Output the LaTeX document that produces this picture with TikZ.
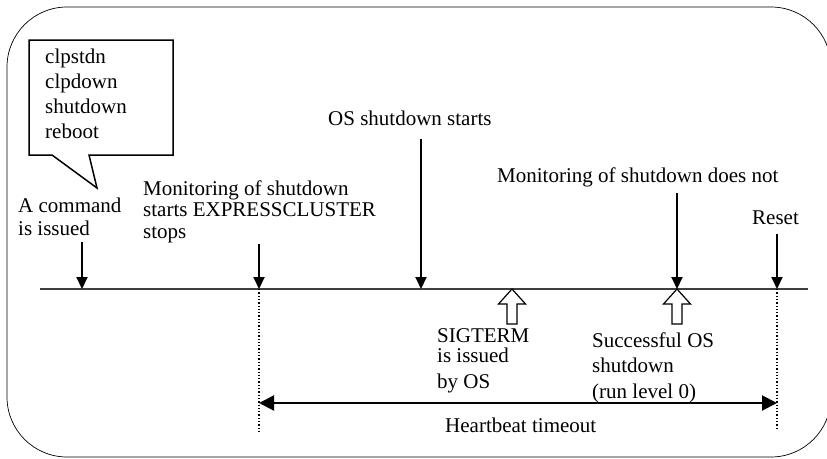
\documentclass[tikz,border=0pt]{standalone}
\usepackage{fontspec}
\setmainfont{Liberation Serif}
\usetikzlibrary{positioning,arrows.meta}

\begin{document}
\begin{tikzpicture}[x=1pt,y=-1pt,
  lbl/.style={anchor=base west,inner sep=0pt,align=left,font=\fontsize{21}{23}\selectfont},
  ev/.style={line width=2pt,-{Triangle[length=12pt,width=11pt]}},
  guide/.style={dotted,line width=1.3pt},
  hollow/.style={draw,fill=white,line width=1.2pt,line join=miter}]
  \useasboundingbox (0,0) rectangle (827,458);
  \clip (0,0) rectangle (827,458);
  % frame
  \draw[line width=0.7pt,rounded corners=60pt] (7,7) rectangle (831,457);
  % time line and its events
  \coordinate (start) at (40,289);
  \coordinate (stop) at (808,289);
  \draw[line width=1.6pt,black!75] (start) -- (stop);
  \coordinate (t1) at (82,289);
  \coordinate (t2) at (259,289);
  \coordinate (t3) at (421,289);
  \coordinate (t4) at (512,289);
  \coordinate (t5) at (677,289);
  \coordinate (t6) at (777,289);
  % callout with the commands
  \draw[line width=1.5pt,line join=miter] (29,40) -- (173,40) -- (173,155) -- (89,155)
    -- (97,188) -- (52,155) -- (29,155) -- cycle;
  \node[lbl,font=\fontsize{21}{25}\selectfont] (cmds) at (45,138)
    {clpstdn\\ clpdown\\ shutdown\\ reboot};
  % labels above the line (base = last line)
  \node[lbl] (issued) at (18,235) {A command\\ is issued};
  \node[lbl,font=\fontsize{21}{21.5}\selectfont] (monstart) at (143,238)
    {Monitoring of shutdown\\ starts EXPRESSCLUSTER\\ stops};
  \node[lbl] (osstart) at (328,125) {OS shutdown starts};
  \node[lbl] (monnot) at (497,182) {Monitoring of shutdown does not};
  \node[lbl] (reset) at (752,224) {Reset};
  \draw[ev] (t1 |- 0,242) -- (t1);
  \draw[ev] (t2 |- 0,244) -- (t2);
  \draw[ev] (t3 |- 0,139) -- (t3);
  \draw[ev] (t5 |- 0,193) -- (t5);
  \draw[ev] (t6 |- 0,234) -- (t6);
  % hollow arrows from below
  \foreach \t in {t4,t5}
    \draw[hollow] (\t) -- ++(13.5,15) -- ++(-8.5,0) -- ++(0,20) -- ++(-10,0)
      -- ++(0,-20) -- ++(-8.5,0) -- cycle;
  % labels below the line
  \node[lbl,font=\fontsize{21}{20}\selectfont] (sigterm) at (437,388)
    {SIGTERM\\ is issued\\[6pt] by OS};
  \node[lbl,font=\fontsize{21}{25.5}\selectfont] (success) at (592,398)
    {Successful OS\\ shutdown\\ (run level 0)};
  % heartbeat timeout
  \coordinate (hb1) at (259,403);
  \coordinate (hb2) at (777,403);
  \draw[guide] (t2) -- (t2 |- 0,432);
  \draw[guide] (t6) -- (t6 |- 0,430);
  \draw[line width=2pt,{Triangle[length=15pt,width=15pt]}-{Triangle[length=15pt,width=15pt]}]
    (hb1) -- (hb2);
  \node[lbl] (hbeat) at (445,432) {Heartbeat timeout};
\end{tikzpicture}
\end{document}
